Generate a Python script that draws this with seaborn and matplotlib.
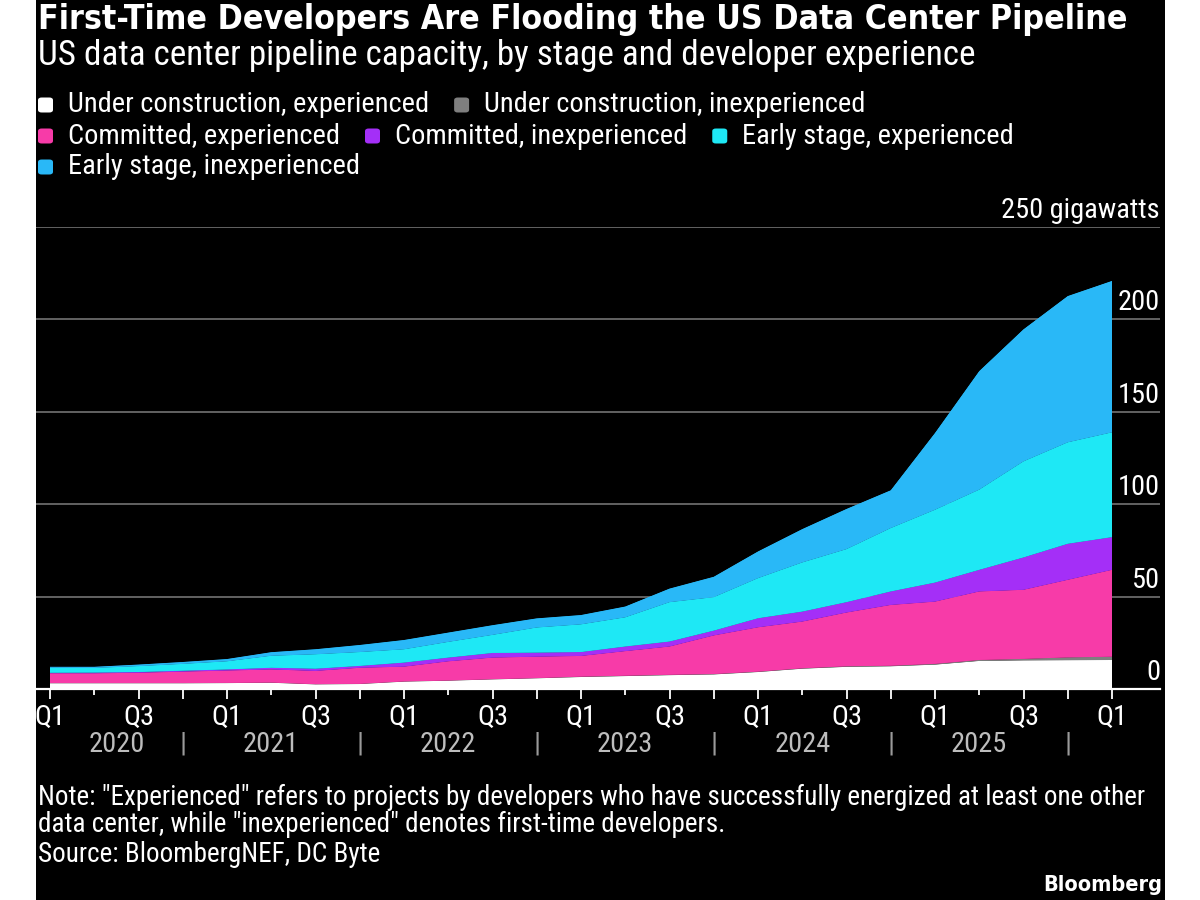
import matplotlib
matplotlib.use("Agg")
import matplotlib.pyplot as plt
import matplotlib.transforms as mtransforms
from matplotlib import font_manager as fm
from matplotlib.patches import Rectangle, FancyBboxPatch
import numpy as np
import pandas as pd
import seaborn as sns
import seaborn.objects as so

# ---------------- data ----------------
quarters = ["2020 Q1", "2020 Q2", "2020 Q3", "2020 Q4",
            "2021 Q1", "2021 Q2", "2021 Q3", "2021 Q4",
            "2022 Q1", "2022 Q2", "2022 Q3", "2022 Q4",
            "2023 Q1", "2023 Q2", "2023 Q3", "2023 Q4",
            "2024 Q1", "2024 Q2", "2024 Q3", "2024 Q4",
            "2025 Q1", "2025 Q2", "2025 Q3", "2025 Q4",
            "2026 Q1"]
years = ["2020", "2021", "2022", "2023", "2024", "2025"]

series_names = ["Under construction, experienced", "Under construction, inexperienced",
                "Committed, experienced", "Committed, inexperienced",
                "Early stage, experienced", "Early stage, inexperienced"]

uc_exp = [3.1, 3.1, 3.1, 3.1, 3.2, 3.4, 2.5, 2.7, 4.0, 4.5, 5.2, 5.8, 6.5,
          7.0, 7.5, 7.9, 9.2, 11.0, 12.0, 12.3, 13.2, 15.2, 15.5, 15.6, 15.7]
uc_inexp = [0.1, 0.1, 0.1, 0.1, 0.1, 0.1, 0.1, 0.1, 0.1, 0.1, 0.1, 0.1, 0.2,
            0.2, 0.2, 0.2, 0.2, 0.2, 0.3, 0.3, 0.4, 0.5, 0.8, 1.5, 1.8]
com_exp = [5.3, 5.3, 5.6, 6.2, 6.7, 7.1, 7.2, 8.7, 8.0, 10.4, 11.7, 11.6, 11.2,
           13.3, 15.3, 20.9, 24.0, 25.3, 29.1, 32.9, 33.7, 37.1, 37.4, 42.0, 47.0]
com_inexp = [0.3, 0.4, 0.4, 0.5, 0.6, 0.9, 1.2, 1.0, 2.2, 2.0, 2.5, 2.2, 2.1,
             2.5, 2.7, 2.6, 4.9, 5.4, 5.6, 7.3, 10.3, 11.7, 17.5, 19.5, 17.7]
early_exp = [2.7, 2.5, 3.2, 3.7, 4.4, 6.5, 7.8, 7.5, 7.2, 8.5, 9.8, 13.6, 15.0,
             15.8, 21.3, 18.1, 21.7, 26.6, 28.7, 34.3, 39.4, 43.4, 52.0, 54.9, 56.7]
early_inexp = [0.5, 0.6, 0.8, 1.0, 1.2, 1.9, 2.7, 3.8, 5.0, 5.0, 5.2, 4.9, 5.0,
               5.8, 7.3, 11.0, 14.4, 18.0, 21.7, 20.4, 41.5, 64.1, 71.4, 79.1, 81.9]

series_values = [uc_exp, uc_inexp, com_exp, com_inexp, early_exp, early_inexp]
series_colors = ["#ffffff", "#7f7f7f", "#f73ba8", "#a42ff7", "#1ee8f5", "#29b8f7"]

y_ticks = [0, 50, 100, 150, 200, 250]
y_tick_labels = ["0", "50", "100", "150", "200", "250 gigawatts"]

title = "First-Time Developers Are Flooding the US Data Center Pipeline"
subtitle = "US data center pipeline capacity, by stage and developer experience"
note_lines = ['Note: "Experienced" refers to projects by developers who have successfully energized at least one other',
              'data center, while "inexperienced" denotes first-time developers.',
              "Source: BloombergNEF, DC Byte"]
brand = "Bloomberg"

# ---------------- data frame ----------------
idx = list(range(len(quarters)))
q_of = [q.split()[1] for q in quarters]
rows = []
for name, vals in zip(series_names, series_values):
    for i, v in zip(idx, vals):
        rows.append({"idx": i, "gw": v, "series": name})
df = pd.DataFrame(rows)

# ---------------- style / fonts ----------------
sns.set_theme(style="dark")


def has_family(name):
    try:
        fm.findfont(fm.FontProperties(family=name), fallback_to_default=False)
        return True
    except Exception:
        return False


body_font = None
for cand in ["Liberation Sans Narrow", "Roboto Condensed", "Open Sans Condensed"]:
    if has_family(cand):
        body_font = cand
        break
if body_font is not None:
    BODY = dict(family=[body_font, "DejaVu Sans"])
else:
    BODY = dict(family=["DejaVu Sans"], fontstretch="condensed")
TITLE = dict(family=["DejaVu Sans"], fontstretch="condensed", fontweight="bold")

plt.rcParams["font.family"] = ["DejaVu Sans"]

W, H = 1200, 900
fig = plt.figure(figsize=(12, 9), dpi=100, facecolor="white")


def fx(px):
    return px / W


def fy(py):
    return 1 - py / H


fig.patches.append(Rectangle((fx(36), 0), (1165 - 36) / W, 1, transform=fig.transFigure,
                             facecolor="black", edgecolor="none", zorder=-10))

ax_left, ax_right, ax_top, ax_bot = 36, 1160, 227, 689
ax = fig.add_axes([fx(ax_left), fy(ax_bot), (ax_right - ax_left) / W, (ax_bot - ax_top) / H])

(
    so.Plot(df, x="idx", y="gw", color="series")
    .add(so.Area(alpha=1, edgewidth=0.6), so.Stack())
    .scale(color=so.Nominal(dict(zip(series_names, series_colors)), order=series_names))
    .on(ax)
    .plot()
)
fig.legends.clear()
if ax.get_legend() is not None:
    ax.get_legend().remove()

# axis geometry: Q1 2020 at px 50, Q1 2026 at px 1112
px_per_q = (1112 - 50) / (len(quarters) - 1)
ax.set_xlim((ax_left - 50) / px_per_q, (ax_right - 50) / px_per_q)
ax.set_ylim(0, 250)
ax.set_facecolor("black")
ax.set_xlabel("")
ax.set_ylabel("")
for s in ["top", "left", "right"]:
    ax.spines[s].set_visible(False)
ax.spines["bottom"].set_visible(True)
ax.spines["bottom"].set_color("white")
ax.spines["bottom"].set_linewidth(1.6)
ax.spines["bottom"].set_zorder(5)

# gridlines
ax.set_yticks(y_ticks)
ax.yaxis.grid(True, color="#6a6a6a", linewidth=1.3)
ax.xaxis.grid(False)
ax.set_axisbelow(True)
ax.tick_params(axis="y", left=False, right=False, labelleft=False, labelright=False)

renderer = fig.canvas.get_renderer()


def fit_width(t, target):
    w = t.get_window_extent(renderer).width
    t.set_fontsize(t.get_fontsize() * target / w)
    return t.get_fontsize()


# ---------------- titles ----------------
t_title = fig.text(fx(38), fy(20), title, color="white", va="center", ha="left", fontsize=20, **TITLE)
fit_width(t_title, 1092)
t_sub = fig.text(fx(38), fy(55), subtitle, color="white", va="center", ha="left", fontsize=18, **BODY)
fit_width(t_sub, 939)

# ---------------- legend (flow layout) ----------------
probe = fig.text(0, 0, series_names[0], fontsize=16, **BODY)
leg_size = fit_width(probe, 362)
probe.remove()
row_y = [105, 136, 167]
row = 0
cur_x = 38
sq = 15
for name, col in zip(series_names, series_colors):
    t = fig.text(0, 0, name, color="white", fontsize=leg_size, va="center", ha="left", **BODY)
    tw = t.get_window_extent(renderer).width
    if cur_x + 30 + tw > 1160 and cur_x > 38:
        row += 1
        cur_x = 38
    yc = row_y[row]
    t.set_position((fx(cur_x + 30), fy(yc)))
    fig.patches.append(FancyBboxPatch((fx(cur_x), fy(yc + sq / 2)), sq / W, sq / H,
                                      boxstyle="round,pad=0,rounding_size=0.003",
                                      transform=fig.transFigure, facecolor=col,
                                      edgecolor="none", zorder=3))
    cur_x = cur_x + 30 + tw + 25

# ---------------- x ticks ----------------
major_idx = [i for i in idx if q_of[i] in ("Q1", "Q3", "Q4")]
minor_idx = [i for i in idx if q_of[i] == "Q2"]
ax.set_xticks(major_idx)
ax.set_xticklabels([q_of[i] if q_of[i] in ("Q1", "Q3") else "" for i in major_idx])
ax.set_xticks(minor_idx, minor=True)
ax.tick_params(axis="x", which="major", bottom=True, length=7.5, width=1.3, color="white",
               labelcolor="white", pad=3, labelsize=leg_size)
ax.tick_params(axis="x", which="minor", bottom=True, length=4, width=1.3, color="white")
fp_kwargs = {("stretch" if k == "fontstretch" else k): v for k, v in BODY.items()}
for lab in ax.get_xticklabels():
    lab.set_fontproperties(fm.FontProperties(size=leg_size, **fp_kwargs))
    lab.set_color("white")

# year labels and separators
xform = mtransforms.blended_transform_factory(ax.transData, fig.transFigure)
sep_idx = [i for i in idx if q_of[i] == "Q4"]
starts = [0] + sep_idx[:-1]
for yr, s0, s1 in zip(years, starts, sep_idx):
    ax.text((s0 + s1) / 2, fy(744), yr, transform=xform, ha="center", va="center",
            color="#bdbdbd", fontsize=leg_size, clip_on=False, **BODY)
for s in sep_idx:
    ax.text(s, fy(744), "|", transform=xform, ha="center", va="center",
            color="#9a9a9a", fontsize=leg_size, clip_on=False, **BODY)

# y tick labels above gridlines, right aligned
ytrans = mtransforms.offset_copy(ax.get_yaxis_transform(), fig=fig, x=0, y=9, units="dots")
for v, lab in zip(y_ticks, y_tick_labels):
    ax.text(1.0, v, lab, transform=ytrans, ha="right", va="baseline", color="white",
            fontsize=leg_size, clip_on=False, **BODY)

# ---------------- notes ----------------
note_y = [797, 824, 855]
t0 = fig.text(fx(38), fy(note_y[0]), note_lines[0], color="white", va="center", ha="left",
              fontsize=15, **BODY)
note_size = fit_width(t0, 1107)
for line, yy in zip(note_lines[1:], note_y[1:]):
    fig.text(fx(38), fy(yy), line, color="white", va="center", ha="left", fontsize=note_size, **BODY)

t_b = fig.text(fx(1162), fy(885), brand, color="white", va="center", ha="right", fontsize=15,
               **TITLE)
fit_width(t_b, 120)

fig.savefig("out.png", dpi=100, facecolor="white")
